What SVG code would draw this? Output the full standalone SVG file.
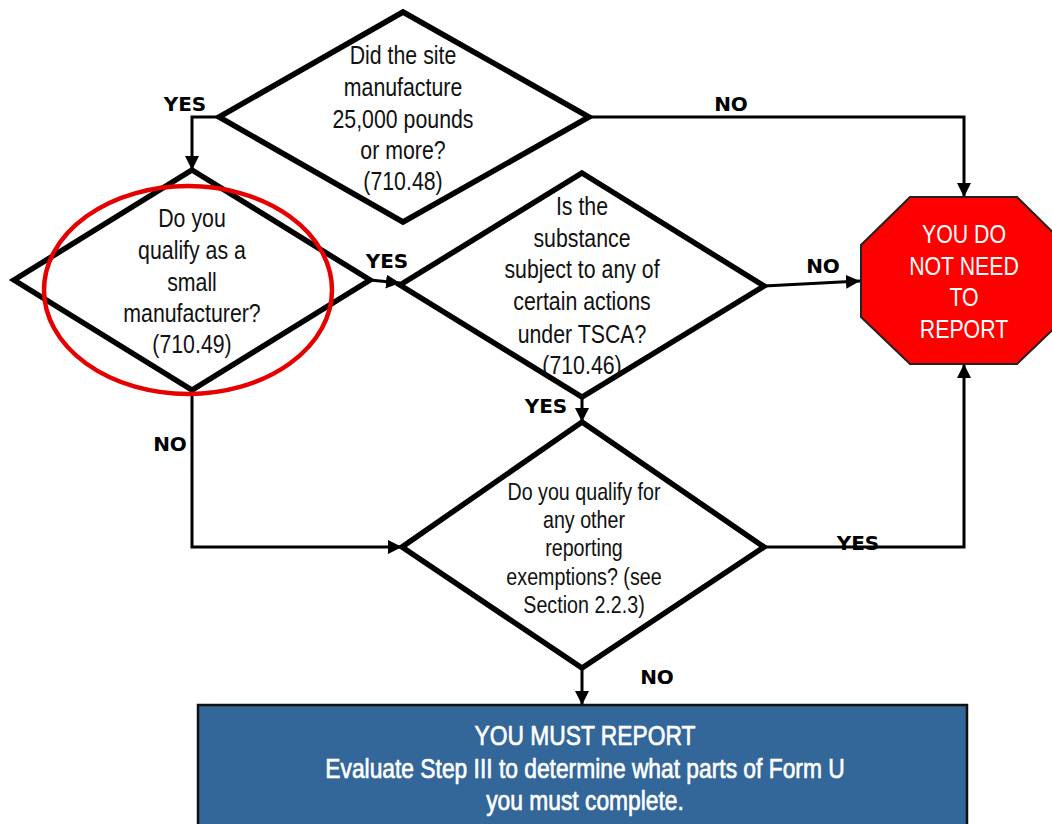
<svg xmlns="http://www.w3.org/2000/svg" width="1052" height="824" viewBox="0 0 1052 824">
<defs>
<marker id="arr" markerUnits="userSpaceOnUse" markerWidth="16" markerHeight="14" refX="14" refY="7" orient="auto">
<path d="M0,0 L14,7 L0,14 z" fill="#000"/>
</marker>
<style>
.d{fill:#fff;stroke:#000;stroke-width:5.5;stroke-linejoin:miter}
.c{fill:none;stroke:#000;stroke-width:3}
.t{font-family:"Liberation Sans",Arial,sans-serif;font-size:26px;fill:#111;text-anchor:middle}
.ts{font-size:24px}
.tb{font-size:28.5px;stroke:#fff;stroke-width:0.7}
.lb{font-family:"DejaVu Sans","Liberation Sans",sans-serif;font-weight:bold;font-size:20px;fill:#000;text-anchor:middle}
.w{fill:#fff}
</style>
</defs>
<rect width="1052" height="824" fill="#fff"/>
<g id="connectors">
<path class="c" d="M219,117 H192 V170" marker-end="url(#arr)"/>
<path class="c" d="M589,117 H964 V197" marker-end="url(#arr)"/>
<path class="c" d="M370,280 L400,283" marker-end="url(#arr)"/>
<path class="c" d="M764,286 L860,281" marker-end="url(#arr)"/>
<path class="c" d="M582,397 V422" marker-end="url(#arr)"/>
<path class="c" d="M192,390 V547 H402" marker-end="url(#arr)"/>
<path class="c" d="M764,547 H964 V364" marker-end="url(#arr)"/>
<path class="c" d="M582,668 V705" marker-end="url(#arr)"/>
<text class="lb" x="185" y="111">YES</text>
<text class="lb" x="731" y="111">NO</text>
<text class="lb" x="387" y="268">YES</text>
<text class="lb" x="823" y="273">NO</text>
<text class="lb" x="546" y="413">YES</text>
<text class="lb" x="170" y="451">NO</text>
<text class="lb" x="858" y="550">YES</text>
<text class="lb" x="657" y="684">NO</text>
</g>
<g id="q1">
<polygon class="d" points="403,12 589,117 403,222 219,117"/>
<g transform="matrix(0.82,0,0,1,403,0)">
<text class="t" x="0" y="64">Did the site</text>
<text class="t" x="0" y="96">manufacture</text>
<text class="t" x="0" y="128">25,000 pounds</text>
<text class="t" x="0" y="159">or more?</text>
<text class="t" x="0" y="190">(710.48)</text>
</g>
</g>
<g id="q2">
<polygon class="d" points="192,170 370,280 192,390 14,280"/>
<g transform="matrix(0.82,0,0,1,192,0)">
<text class="t" x="0" y="227">Do you</text>
<text class="t" x="0" y="259">qualify as a</text>
<text class="t" x="0" y="291">small</text>
<text class="t" x="0" y="322">manufacturer?</text>
<text class="t" x="0" y="353">(710.49)</text>
</g>
</g>
<ellipse id="highlight" cx="188" cy="290" rx="144" ry="104" fill="none" stroke="#e60000" stroke-width="4.5"/>
<g id="q3">
<polygon class="d" points="582,173 764,286 582,397 400,285"/>
<g transform="matrix(0.82,0,0,1,582,0)">
<text class="t" x="0" y="215">Is the</text>
<text class="t" x="0" y="247">substance</text>
<text class="t" x="0" y="278">subject to any of</text>
<text class="t" x="0" y="310">certain actions</text>
<text class="t" x="0" y="343">under TSCA?</text>
<text class="t" x="0" y="374">(710.46)</text>
</g>
</g>
<g id="q4">
<polygon class="d" points="582,422 764,547 582,668 402,547"/>
<g transform="matrix(0.82,0,0,1,584,0)">
<text class="t ts" x="0" y="500">Do you qualify for</text>
<text class="t ts" x="0" y="528">any other</text>
<text class="t ts" x="0" y="556">reporting</text>
<text class="t ts" x="0" y="585">exemptions? (see</text>
<text class="t ts" x="0" y="613">Section 2.2.3)</text>
</g>
</g>
<g id="stop">
<polygon points="910,197 1017,197 1066,245 1066,317 1017,364 910,364 861,317 861,245" fill="#ff0000" stroke="#222" stroke-width="2"/>
<g transform="matrix(0.82,0,0,1,964,0)">
<text class="t w" x="0" y="243">YOU DO</text>
<text class="t w" x="0" y="275">NOT NEED</text>
<text class="t w" x="0" y="306">TO</text>
<text class="t w" x="0" y="338">REPORT</text>
</g>
</g>
<g id="report">
<rect x="198" y="705" width="769" height="130" fill="#336699" stroke="#111" stroke-width="2.5"/>
<g transform="matrix(0.8,0,0,1,585,0)">
<text class="t tb w" x="0" y="745">YOU MUST REPORT</text>
<text class="t tb w" x="0" y="778">Evaluate Step III to determine what parts of Form U</text>
<text class="t tb w" x="0" y="810">you must complete.</text>
</g>
</g>
</svg>
